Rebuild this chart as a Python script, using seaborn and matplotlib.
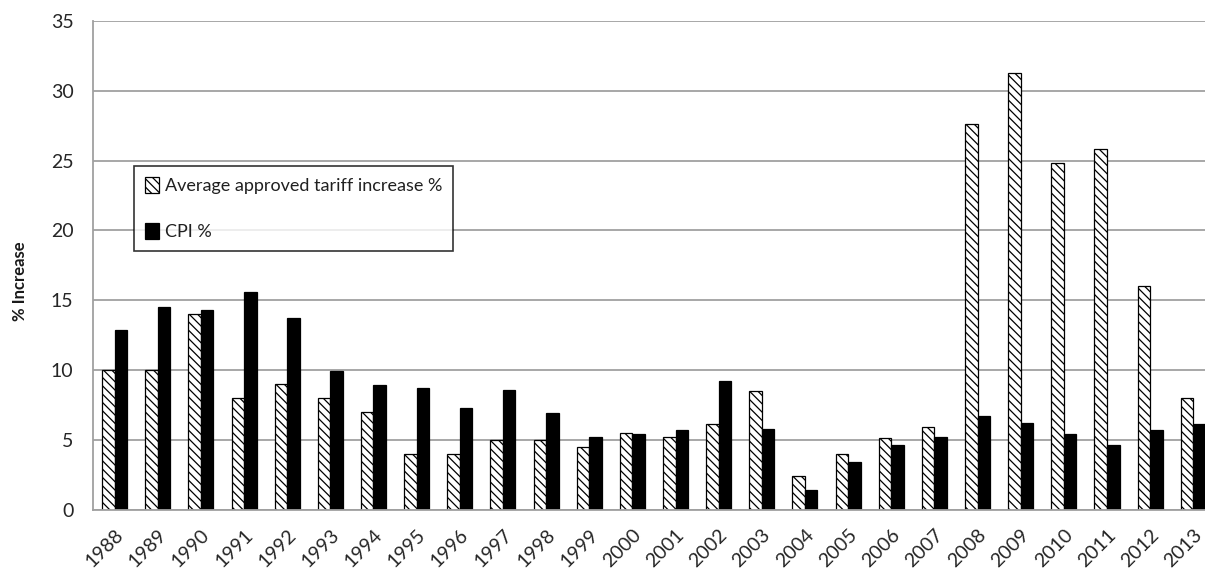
import pandas as pd
import matplotlib
matplotlib.use("Agg")
import matplotlib.pyplot as plt
import seaborn as sns

# data
years = [str(y) for y in range(1988, 2014)]
tariff = [10, 10, 14, 8, 9, 8, 7, 4, 4, 5, 5, 4.5, 5.5, 5.2, 6.1, 8.5,
          2.4, 4.0, 5.1, 5.9, 27.6, 31.3, 24.8, 25.8, 16.0, 8.0]
cpi = [12.9, 14.5, 14.3, 15.6, 13.7, 9.9, 8.9, 8.7, 7.3, 8.6, 6.9, 5.2, 5.4,
       5.7, 9.2, 5.8, 1.4, 3.4, 4.6, 5.2, 6.7, 6.2, 5.4, 4.6, 5.7, 6.1]
series = ["Average approved tariff increase %", "CPI %"]

df = pd.DataFrame({
    "year": years * 2,
    "value": tariff + cpi,
    "series": [series[0]] * len(years) + [series[1]] * len(years),
})

sns.set_style("white")
plt.rcParams["font.family"] = ["Lato", "DejaVu Sans"]
plt.rcParams["hatch.linewidth"] = 0.9

fig = plt.figure(figsize=(12.05, 5.7), dpi=100)
ax = fig.add_axes([0.0772, 0.106, 0.931, 0.857])

sns.barplot(data=df, x="year", y="value", hue="series", hue_order=series,
            palette=["white", "black"], edgecolor="black", linewidth=0.9,
            width=0.58, gap=0, saturation=1, errorbar=None, ax=ax)

for bar in ax.containers[0]:
    bar.set_hatch("\\\\\\\\")

ax.set_ylim(0, 35)
ax.set_yticks(range(0, 36, 5))
ax.yaxis.grid(True, color="#a0a0a0", linewidth=1.3)
ax.set_axisbelow(True)
for s in ["top", "right"]:
    ax.spines[s].set_visible(False)
for s in ["left", "bottom"]:
    ax.spines[s].set_color("#a0a0a0")
    ax.spines[s].set_linewidth(1.3)

ax.tick_params(axis="y", length=6, color="#a0a0a0", width=1.3,
               labelsize=14, labelcolor="#262626", pad=8)
ax.tick_params(axis="x", length=0, labelsize=14, labelcolor="#262626", pad=12)
plt.setp(ax.get_xticklabels(), rotation=45, ha="right", rotation_mode="anchor")

ax.set_xlabel("")
ax.set_ylabel("% Increase", fontsize=12, fontweight="bold", color="#1a1a1a")
ax.yaxis.set_label_coords(-0.058, 0.468)

leg = ax.legend(handles=[ax.containers[0], ax.containers[1]], labels=series,
                loc="upper left", bbox_to_anchor=(0.0365, 0.703),
                borderaxespad=0, frameon=True, fancybox=False,
                fontsize=13, labelspacing=1.6, handlelength=0.8,
                handleheight=1.0, handletextpad=0.3, borderpad=0.6)
leg.get_frame().set_edgecolor("black")
leg.get_frame().set_linewidth(1.2)
for t in leg.get_texts():
    t.set_color("#202020")

fig.savefig("out.png", dpi=100)
